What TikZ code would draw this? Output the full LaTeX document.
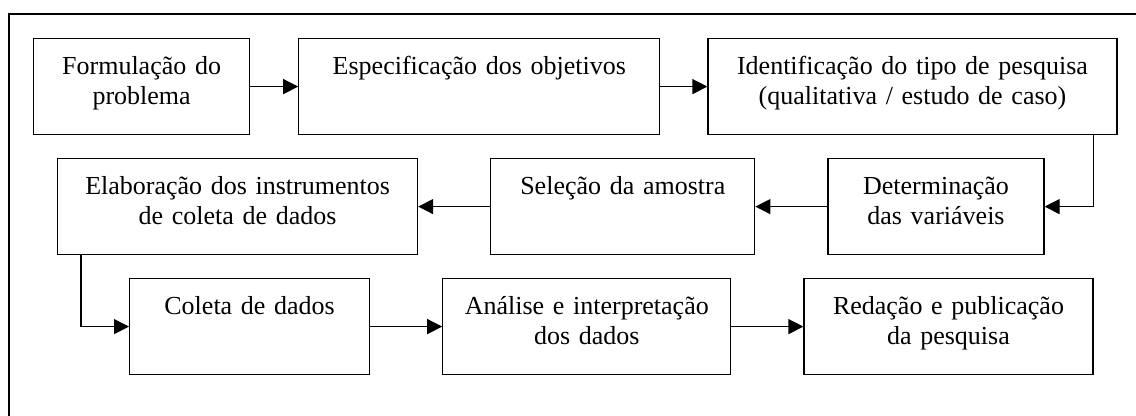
\documentclass[tikz,border=0pt]{standalone}
\usepackage{fontspec}
\setmainfont{Liberation Serif}
\usetikzlibrary{positioning, arrows.meta}

\begin{document}
\begin{tikzpicture}[
  x=0.5pt, y=-0.5pt,
  etapa/.style={rectangle, draw=black, line width=0.6pt, inner xsep=0pt, inner ysep=0pt,
    text height=18pt, text depth=30pt, align=center,
    font=\fontsize{13}{15}\selectfont},
  seta/.style={-{Triangle[length=7.5pt, width=7.5pt]}, line width=0.6pt},
  node distance=36pt
]
\useasboundingbox (0,0) rectangle (1136,416);

% moldura
\draw[line width=0.6pt] (9,416) |- (1136,14);

% ======================
% PRIMEIRA LINHA
% ======================
\node[etapa, text width=108pt, anchor=north west] (formulacao) at (33,38) {
Formulação do\\
problema
};

\node[etapa, text width=180.5pt, right=24pt of formulacao] (especificacao) {
Especificação dos objetivos
};

\node[etapa, text width=204.5pt, right=23.5pt of especificacao] (identificacao) {
Identificação do tipo de pesquisa\\
(qualitativa / estudo de caso)
};

% ======================
% SEGUNDA LINHA
% ======================
\node[etapa, text width=180pt, anchor=north west] (elaboracao) at (57,158) {
Elaboração dos instrumentos\\
de coleta de dados
};

\node[etapa, text width=132pt, right=of elaboracao] (selecao) {
Seleção da amostra
};

\node[etapa, text width=108pt, right=of selecao] (determinacao) {
Determinação\\
das variáveis
};

% ======================
% TERCEIRA LINHA
% ======================
\node[etapa, text width=120pt, anchor=north west] (coleta) at (129,278) {
Coleta de dados
};

\node[etapa, text width=144pt, right=of coleta] (analise) {
Análise e interpretação\\
dos dados
};

\node[etapa, text width=144.5pt, right=of analise] (redacao) {
Redação e publicação\\
da pesquisa
};

% ======================
% LIGACOES
% ======================
\draw[seta] (formulacao) -- (especificacao);
\draw[seta] (especificacao) -- (identificacao);
\draw[seta] ([xshift=-12pt]identificacao.south east) |- (determinacao.east);

\draw[seta] (determinacao) -- (selecao);
\draw[seta] (selecao) -- (elaboracao);
\draw[seta] ([xshift=12pt]elaboracao.south west) |- (coleta.west);

\draw[seta] (coleta) -- (analise);
\draw[seta] (analise) -- (redacao);

\end{tikzpicture}
\end{document}
